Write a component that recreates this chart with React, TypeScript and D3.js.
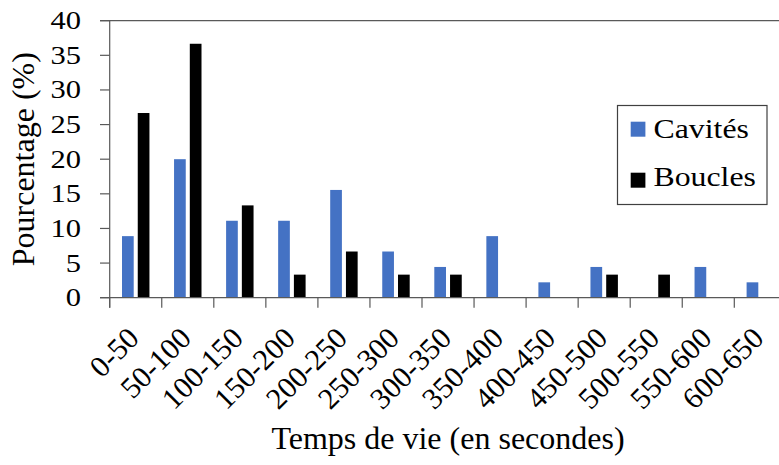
import React from "react";
import * as d3 from "d3";

const categories = ["0-50", "50-100", "100-150", "150-200", "200-250", "250-300", "300-350", "350-400", "400-450", "450-500", "500-550", "550-600", "600-650"];
const seriesNames = ["Cavités", "Boucles"];
const cavites = [8.89, 20.0, 11.11, 11.11, 15.56, 6.67, 4.44, 8.89, 2.22, 4.44, 0, 4.44, 2.22];
const boucles = [26.67, 36.67, 13.33, 3.33, 6.67, 3.33, 3.33, 0, 0, 3.33, 3.33, 0, 0];
const yTicks = [0, 5, 10, 15, 20, 25, 30, 35, 40];
const colors = ["#4472C4", "#000000"];

const W = 779;
const H = 465;
const FONT = "Liberation Serif";
const AXIS = "#595959";

export default function App() {
  const x0 = 109.7;
  const step = 52.05;
  const x = d3.scaleBand<string>().domain(categories).range([x0, x0 + step * categories.length]).padding(0);
  const bw = x.bandwidth();
  const xs = d3.scaleBand<string>().domain(seriesNames).range([12.3, bw - 12.3]).paddingInner(0.257).paddingOuter(0);
  const y = d3.scaleLinear().domain([0, 40]).range([297.7, 20.7]);
  const data = [cavites, boucles];

  return (
    <svg width={W} height={H} style={{ position: "absolute", left: 0, top: 0, background: "#fff", fontFamily: FONT }}>
      <rect x={0} y={0} width={W} height={H} fill="#fff" />
      {data.map((vals, si) =>
        vals.map((v, i) => (
          <rect
            key={`${si}-${i}`}
            x={(x(categories[i]) as number) + (xs(seriesNames[si]) as number)}
            y={y(v)}
            width={xs.bandwidth()}
            height={y(0) - y(v)}
            fill={colors[si]}
          />
        ))
      )}
      <line x1={100} x2={W} y1={y(40)} y2={y(40)} stroke={AXIS} strokeWidth={1.2} />
      <line x1={x0} x2={x0} y1={y(40)} y2={y(0) + 10} stroke={AXIS} strokeWidth={1.2} />
      {yTicks.map((t) => (
        <g key={t}>
          <line x1={100} x2={x0} y1={y(t)} y2={y(t)} stroke={AXIS} strokeWidth={1.2} />
          <text transform={`translate(81,${y(t) + 8.5}) scale(1.22,1)`} textAnchor="end" fontSize={25} fontFamily={FONT} fill="#000">{t}</text>
        </g>
      ))}
      <line x1={100} x2={W} y1={y(0)} y2={y(0)} stroke={AXIS} strokeWidth={1.2} />
      {categories.map((c, i) => (
        <line key={`t${i}`} x1={x(c) as number} x2={x(c) as number} y1={y(0)} y2={y(0) + 10} stroke={AXIS} strokeWidth={1.2} />
      ))}
      <line x1={x0 + step * categories.length} x2={x0 + step * categories.length} y1={y(0)} y2={y(0) + 10} stroke={AXIS} strokeWidth={1.2} />
      {categories.map((c, i) => {
        const cx = (x(c) as number) + bw / 2 + 5;
        return (
          <text key={`l${i}`} transform={`translate(${cx},340) rotate(-45)`} textAnchor="end" fontSize={30} fontFamily={FONT} fill="#000">
            {c}
          </text>
        );
      })}
      <text x={448} y={449} textAnchor="middle" fontSize={32} fontFamily={FONT} fill="#000">Temps de vie (en secondes)</text>
      <text transform={`translate(34,${(y(0) + y(40)) / 2}) rotate(-90)`} textAnchor="middle" fontSize={32} fontFamily={FONT} fill="#000">Pourcentage (%)</text>
      <rect x={617.5} y={105.5} width={149.5} height={99} fill="#fff" stroke="#404040" strokeWidth={1.2} />
      {seriesNames.map((s, i) => (
        <g key={s}>
          <rect x={630.7} y={121.7 + i * 51} width={14.7} height={15} fill={colors[i]} />
          <text transform={`translate(653.5,${138.3 + i * 48}) scale(1.2,1)`} fontSize={26.5} fontFamily={FONT} fill="#000">{s}</text>
        </g>
      ))}
    </svg>
  );
}
